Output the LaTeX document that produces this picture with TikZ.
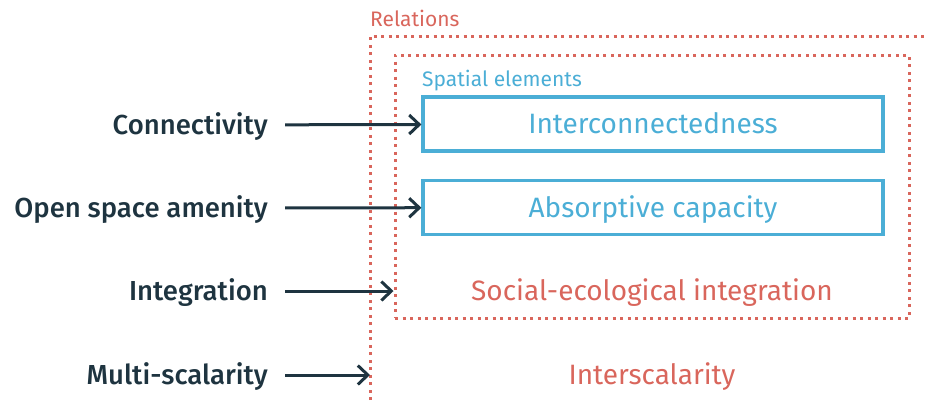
\documentclass[tikz,border=0pt]{standalone}
\usepackage{xcolor}
\usepackage{fontspec}
\setmainfont{Fira Sans}
\newfontfamily\medfont{Fira Sans}[UprightFont=* Medium]
\usepackage{tikz}
\usetikzlibrary{arrows.meta,positioning}

\definecolor{darkslate}{HTML}{1E3440}
\definecolor{skyblue}{HTML}{4BAED6}
\definecolor{brickred}{HTML}{D9665C}

\begin{document}
\begin{tikzpicture}[
  x=1pt, y=-1pt,
  every node/.style={inner sep=0pt, text height=20pt, text depth=1pt},
  dimension/.style={font=\fontsize{27.5}{32}\medfont, text=darkslate, anchor=east},
  element/.style={draw=skyblue, line width=3.2pt, text=skyblue, font=\fontsize{28}{32}\selectfont, minimum width=460pt, minimum height=54pt},
  relation/.style={text=brickred, font=\fontsize{28}{32}\selectfont},
  caption/.style={font=\fontsize{21}{25}\selectfont, anchor=base west, text height=, text depth=},
  dotline/.style={draw=brickred, line width=3pt, dash pattern=on 3pt off 4.5pt},
  arrow/.style={-{Straight Barb[length=10pt, width=19pt]}, line width=3pt, draw=darkslate, shorten <=17pt}
]
\useasboundingbox (0,0) rectangle (928,400);

% relations frame (open to the right and bottom)
\coordinate (corner) at (370,36);
\draw[dotline] (corner |- 0,400) -- (corner) -- (928,36);
\node[caption, text=brickred] at (370,26) {Relations};

% spatial elements frame
\node[dotline, minimum width=514pt, minimum height=263pt, text height=, text depth=] (frame) at (652,186.5) {};
\node[caption, text=skyblue] at (422,86) {Spatial elements};

\node[element] (inter) at (653,124) {Interconnectedness};
\node[element] (absorb) at (653,207.5) {Absorptive capacity};
\node[relation] (socio) at (652,291) {Social-ecological integration};
\node[relation] (scalar) at (652,375) {Interscalarity};

\node[dimension] (conn) at (268,125) {Connectivity};
\node[dimension] (open) at (268,208) {Open space amenity};
\node[dimension] (integ) at (268,291) {Integration};
\node[dimension] (multi) at (268,375) {Multi-scalarity};

\draw[arrow] (conn) -- (inter);
\draw[arrow] (open) -- (absorb);
\draw[arrow] (integ) -- (integ -| frame.west);
\draw[arrow] (multi) -- (multi -| corner);
\end{tikzpicture}
\end{document}
